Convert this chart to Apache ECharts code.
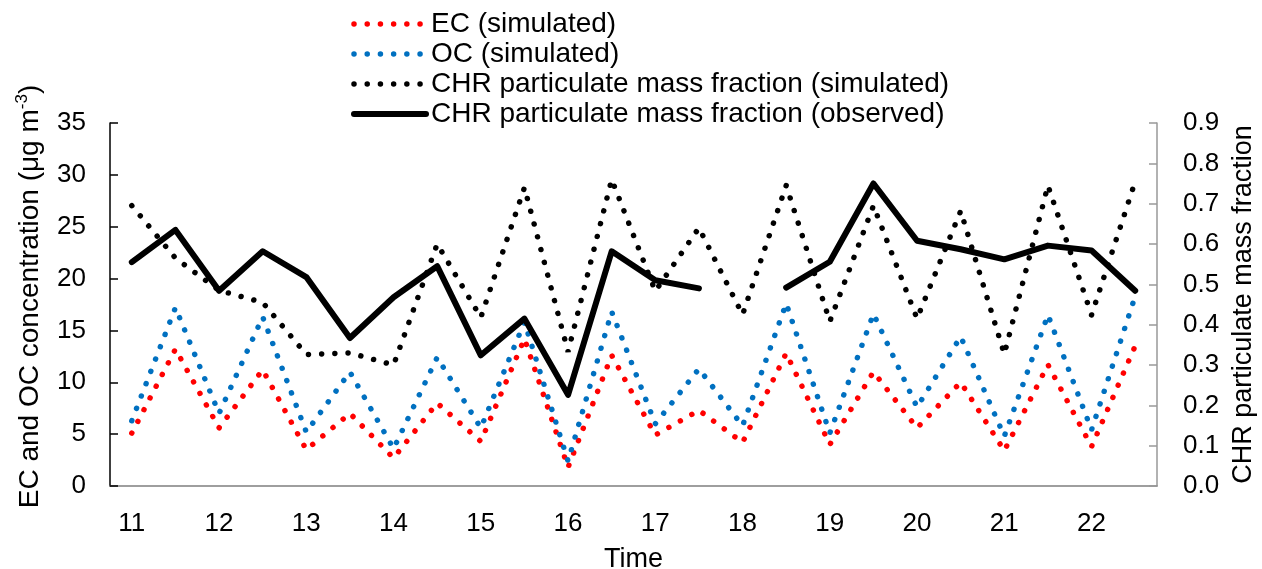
<!DOCTYPE html>
<html>
<head>
<meta charset="utf-8">
<script src="https://cdn.jsdelivr.net/npm/echarts@6/dist/echarts.min.js"></script>
<style>
html,body{margin:0;padding:0;background:#fff;}
#chart{width:1262px;height:569px;}
</style>
</head>
<body>
<div id="chart"></div>
<script>
const categories = ['11','11.5','12','12.5','13','13.5','14','14.5','15','15.5','16','16.5','17','17.5','18','18.5','19','19.5','20','20.5','21','21.5','22','22.5'];
const ecSim = [5.1,13.2,5.6,11.2,3.5,7.0,2.7,8.0,4.3,14.2,1.8,12.6,4.9,7.3,4.2,12.8,4.0,11.0,5.6,10.0,3.4,11.7,3.8,13.5];
const ocSim = [6.3,17.2,7.0,16.3,5.2,11.0,3.6,12.4,5.6,15.8,2.4,16.8,6.0,11.3,5.8,17.6,5.1,16.6,7.6,14.4,4.8,16.5,5.4,18.3];
const chrSim = [0.695,0.565,0.485,0.455,0.326,0.330,0.300,0.600,0.418,0.740,0.333,0.760,0.483,0.640,0.425,0.745,0.408,0.695,0.415,0.682,0.327,0.745,0.424,0.755];
const chrObs = [0.555,0.635,0.484,0.582,0.518,0.367,0.468,0.545,0.324,0.415,0.226,0.582,0.510,0.490,null,0.492,0.556,0.750,0.608,0.587,0.562,0.596,0.584,0.484];
const leftTicks = {min:0, max:35, interval:5};
const rightTicks = {min:0, max:0.9, interval:0.1};

const FONT = "'Liberation Sans', Arial, sans-serif";
const chart = echarts.init(document.getElementById('chart'), null, {renderer:'canvas'});
const DASH = [0.01, 13.2];
const dotStyle = (color) => ({color: color, width: 5.5, type: DASH, cap: 'round'});
const solidStyle = {color: '#000', width: 6, type: 'solid', cap: 'round', join: 'round'};

const names = ['EC (simulated)','OC (simulated)','CHR particulate mass fraction (simulated)','CHR particulate mass fraction (observed)'];

chart.setOption({
  animation: false,
  backgroundColor: '#fff',
  textStyle: {fontFamily: FONT},
  grid: {left: 110, right: 105, top: 123, bottom: 83, containLabel: false, outerBoundsMode: 'none'},
  legend: {
    orient: 'vertical', left: 351, top: 9, padding: 0,
    itemWidth: 72, itemHeight: 14, itemGap: 0,
    itemStyle: {opacity: 0},
    textStyle: {fontFamily: FONT, fontSize: 28, color: '#000', lineHeight: 30},
    data: [
      {name: names[0], itemStyle: {opacity: 0}, lineStyle: dotStyle('#ff0000')},
      {name: names[1], itemStyle: {opacity: 0}, lineStyle: dotStyle('#0070c0')},
      {name: names[2], itemStyle: {opacity: 0}, lineStyle: dotStyle('#000')},
      {name: names[3], itemStyle: {opacity: 0}, lineStyle: solidStyle}
    ]
  },
  xAxis: {
    type: 'category', data: categories, boundaryGap: true,
    name: 'Time', nameLocation: 'middle', nameGap: 60,
    nameTextStyle: {fontFamily: FONT, fontSize: 27, color: '#000'},
    axisLine: {lineStyle: {color: '#7f7f7f', width: 1.5}},
    axisTick: {inside: true, length: 8, interval: 0, lineStyle: {color: '#7f7f7f', width: 1.5}},
    axisLabel: {interval: 1, margin: 25, fontFamily: FONT, fontSize: 26, color: '#000'},
    splitLine: {show: false}
  },
  yAxis: [
    {
      type: 'value', position: 'left', min: leftTicks.min, max: leftTicks.max, interval: leftTicks.interval,
      name: '{a|EC and OC concentration (μg m}{s|-3}{a|)}', nameLocation: 'middle', nameGap: 64, nameRotate: 90,
      nameTextStyle: {
        fontFamily: FONT, color: '#000', padding: [0, 0, 0, 16],
        rich: {
          a: {fontFamily: FONT, fontSize: 28, color: '#000', lineHeight: 32},
          s: {fontFamily: FONT, fontSize: 17, color: '#000', verticalAlign: 'top', lineHeight: 32}
        }
      },
      axisLine: {show: true, lineStyle: {color: '#000', width: 1.5}},
      axisTick: {show: true, inside: true, length: 8, lineStyle: {color: '#000', width: 1.5}},
      axisLabel: {margin: 24, fontFamily: FONT, fontSize: 26, color: '#000'},
      splitLine: {show: false}
    },
    {
      type: 'value', position: 'right', min: rightTicks.min, max: rightTicks.max, interval: rightTicks.interval,
      name: 'CHR particulate mass fraction', nameLocation: 'middle', nameGap: 73, nameRotate: 90,
      nameTextStyle: {fontFamily: FONT, fontSize: 27, color: '#000'},
      axisLine: {show: true, lineStyle: {color: '#999', width: 1.5}},
      axisTick: {show: true, inside: true, length: 8, lineStyle: {color: '#999', width: 1.5}},
      axisLabel: {margin: 26, fontFamily: FONT, fontSize: 26, color: '#000', formatter: v => v.toFixed(1)},
      splitLine: {show: false}
    }
  ],
  series: [
    {name: names[0], type: 'line', yAxisIndex: 0, data: ecSim, symbol: 'none', showSymbol: false,
     itemStyle: {color: '#ff0000'}, lineStyle: dotStyle('#ff0000')},
    {name: names[1], type: 'line', yAxisIndex: 0, data: ocSim, symbol: 'none', showSymbol: false,
     itemStyle: {color: '#0070c0'}, lineStyle: dotStyle('#0070c0')},
    {name: names[2], type: 'line', yAxisIndex: 1, data: chrSim, symbol: 'none', showSymbol: false,
     itemStyle: {color: '#000'}, lineStyle: dotStyle('#000')},
    {name: names[3], type: 'line', yAxisIndex: 1, data: chrObs, symbol: 'none', showSymbol: false,
     connectNulls: false, itemStyle: {color: '#000'}, lineStyle: solidStyle}
  ]
});
</script>
</body>
</html>
